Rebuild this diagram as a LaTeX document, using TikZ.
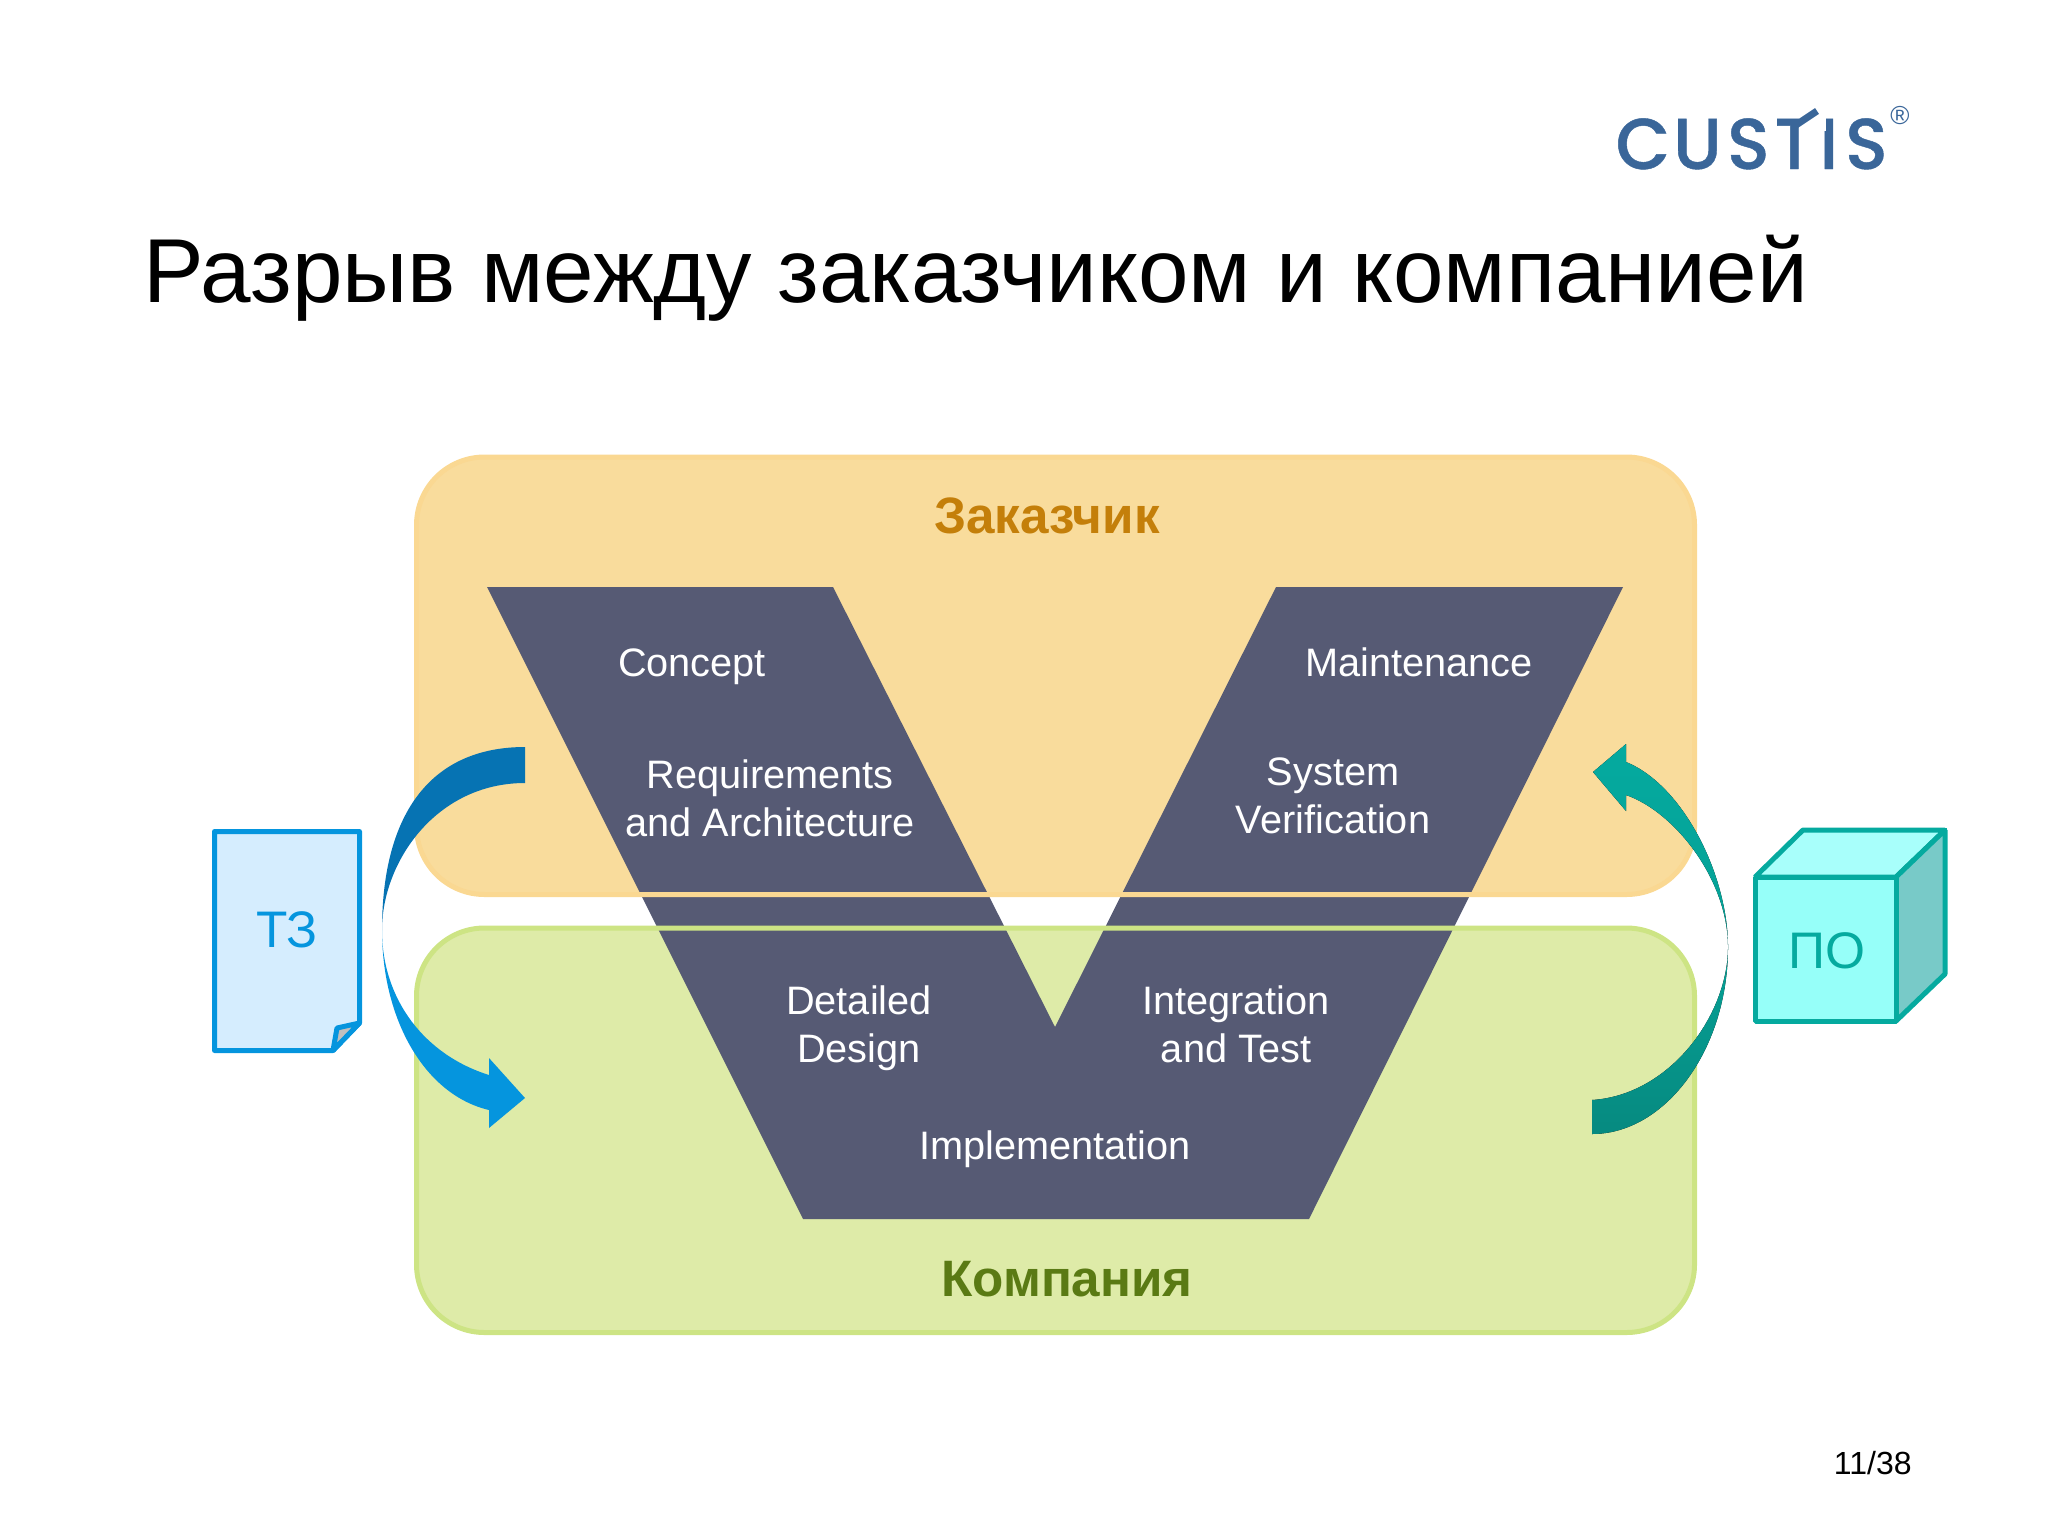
\documentclass[tikz,border=0pt]{standalone}
\usepackage{fontspec}
\setmainfont{Liberation Sans}
\newfontfamily\logofont[FakeStretch=0.98,FakeBold=0.6]{Poppins Medium}
\definecolor{cOrange}{HTML}{F9DC9C}
\definecolor{cOrangeLine}{HTML}{FAD892}
\definecolor{cGreen}{HTML}{DEEBA8}
\definecolor{cGreenLine}{HTML}{CDE484}
\definecolor{cV}{HTML}{565A74}
\definecolor{cBlueD}{HTML}{0673B3}
\definecolor{cBlueL}{HTML}{0595DE}
\definecolor{cTealL}{HTML}{05AA9F}
\definecolor{cTealD}{HTML}{068A80}
\definecolor{cDoc}{HTML}{D5EDFE}
\definecolor{cCubeF}{HTML}{96FFF9}
\definecolor{cCubeT}{HTML}{A8FFFB}
\definecolor{cCubeS}{HTML}{78CAC8}
\definecolor{cLogo}{HTML}{3A6699}
\newcommand{\logocell}[2]{\makebox[#1pt][c]{#2}}
\tikzset{
  panel/.style={rounded corners=34pt},
  vtext/.style={text=white,font=\fontsize{19.85pt}{24pt}\selectfont,align=center,inner sep=0pt},
  heading/.style={font=\bfseries\fontsize{25.6pt}{30pt}\selectfont,inner sep=0pt,anchor=base},
  shapetext/.style={font=\fontsize{25.7pt}{30pt}\selectfont,inner sep=0pt,anchor=base},
}
\begin{document}
\begin{tikzpicture}[x=0.5pt,y=-0.5pt]
\useasboundingbox (0,0) rectangle (2048,1536);
% panels
\fill[cOrange,panel] (416.5,457) rectangle (1694.5,894.5);
\fill[cGreen,panel] (416.5,928) rectangle (1694.5,1332.5);
% V
\fill[cV] (487,587) -- (833,587) -- (1055,1027) -- (1276,587) -- (1623,587) -- (1309,1219) -- (803,1219) -- cycle;
\draw[cOrangeLine,line width=2.5pt,panel] (416.5,457) rectangle (1694.5,894.5);
\draw[cGreenLine,line width=2.5pt,panel] (416.5,928) rectangle (1694.5,1332.5);
% title
\node[anchor=base west,inner sep=0pt,font=\fontsize{45.4pt}{50pt}\selectfont] (title) at (143,302) {Разрыв между заказчиком и компанией};
\node[heading] (cust) at (1047,533) {\textcolor[HTML]{C47F0A}{Заказчик}};
\node[heading] (comp) at (1067,1296) {\textcolor[HTML]{5A7A14}{Компания}};
% V labels
\node[vtext] (concept) at (692,667) {Concept};
\node[vtext] (req) at (770,798) {Requirements\\and Architecture};
\node[vtext] (maint) at (1419,662) {Maintenance};
\node[vtext] (sys) at (1333,796) {System\\Verification};
\node[vtext] (det) at (859,1028) {Detailed\\Design};
\node[vtext] (integ) at (1236,1024) {Integration\\and Test};
\node[vtext] (impl) at (1055,1149) {Implementation};
% left arrow
\fill[cBlueD] (525,747) .. controls (432,747) and (382,812) .. (382,930)
  .. controls (382,862) and (436,783) .. (525,783) -- cycle;
\fill[cBlueL] (382,930) .. controls (382,1020) and (425,1095) .. (489,1110)
  -- (489,1128) -- (525,1098) -- (489,1058) -- (489,1075)
  .. controls (425,1055) and (382,1000) .. (382,930) -- cycle;
% right arrow
\fill[top color=cTealL,bottom color=cTealL!70!cTealD] (1728,947) .. controls (1728,875) and (1683,785) .. (1626,762)
  -- (1626,744) -- (1593,772) -- (1626,811) -- (1626,795)
  .. controls (1675,812) and (1728,880) .. (1728,947) -- cycle;
\fill[top color=cTealL!70!cTealD,bottom color=cTealD] (1728,947) .. controls (1728,1050) and (1665,1134) .. (1592,1134)
  -- (1592,1100) .. controls (1670,1095) and (1728,1015) .. (1728,947) -- cycle;
% doc
\draw[cBlueL,line width=2.5pt,fill=cDoc,line join=round] (214.5,831.5) -- (359.5,831.5) -- (359.5,1023) -- (333,1050.5) -- (214.5,1050.5) -- cycle;
\filldraw[cBlueL,line width=2.5pt,fill=black!25,line join=round] (333,1050.5) -- (337,1028) -- (359.5,1023) -- cycle;
\node[shapetext,text=cBlueL] (tz) at (287,947) {ТЗ};
% cube
\begin{scope}[line width=2.5pt,draw=cTealL,miter limit=1]
\filldraw[fill=cCubeT] (1755,877) -- (1803,830) -- (1945,830) -- (1896,877) -- cycle;
\filldraw[fill=cCubeS] (1896,877) -- (1945,830) -- (1945,974) -- (1896,1021) -- cycle;
\filldraw[fill=cCubeF] (1755,877) rectangle (1896,1021);
\fill[cTealL] (1938,828) rectangle (1947,836);
\end{scope}
\node[shapetext,text=cTealL] (po) at (1827,968) {ПО};
% logo
\node[anchor=base west,inner sep=0pt,text=cLogo,font=\logofont\fontsize{36pt}{40pt}\selectfont] (logo) at (1618,169) {\logocell{24.5}{C}\logocell{30}{U}\logocell{21}{S}\logocell{25}{T}\logocell{9.5}{I}\logocell{28}{S}};
\fill[white] (1798.5,115) rectangle (1826,131);
\draw[cLogo,line width=3.5pt] (1793,127) -- (1817,111);
\node[inner sep=0pt,text=cLogo,font=\fontsize{13pt}{15pt}\selectfont] (reg) at (1900,116) {®};
% page number
\node[anchor=base east,inner sep=0pt,font=\fontsize{16pt}{18pt}\selectfont] (page) at (1912,1474) {11/38};
\end{tikzpicture}
\end{document}
